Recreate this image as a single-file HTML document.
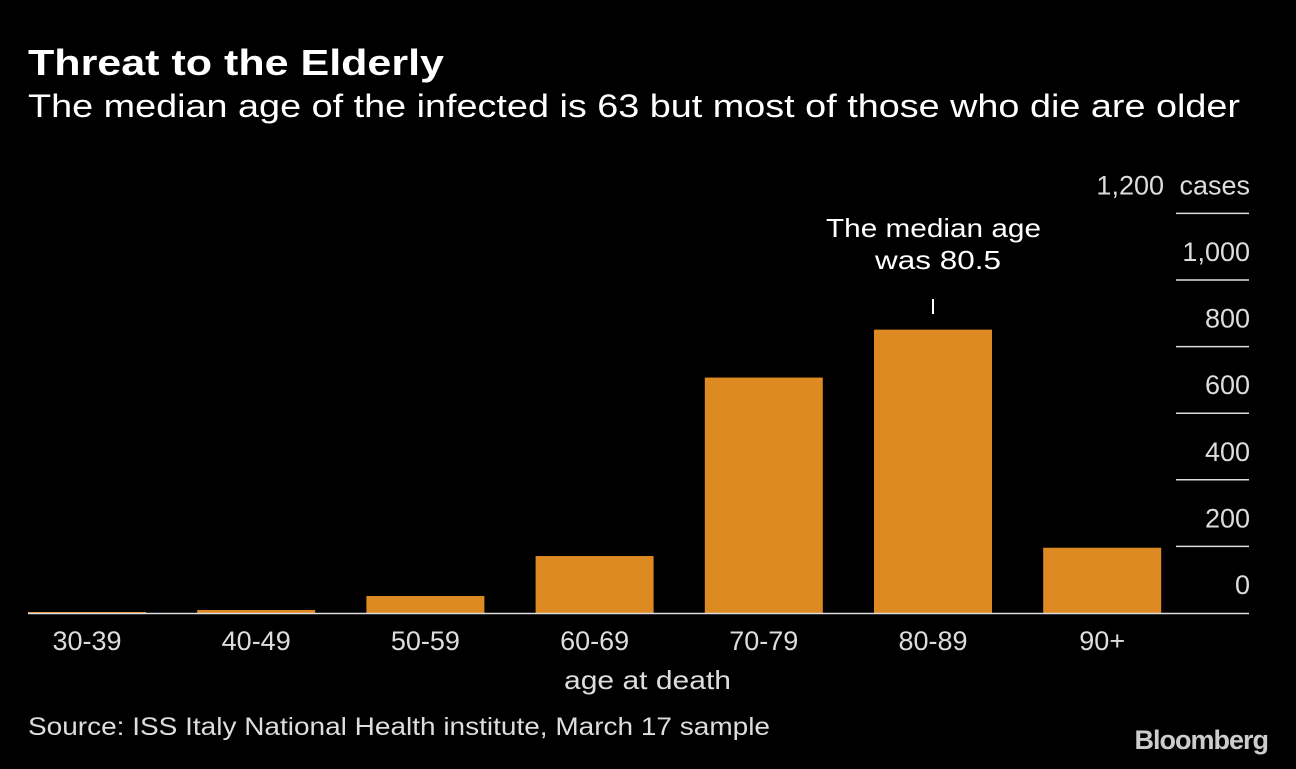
<!DOCTYPE html>
<html><head><meta charset="utf-8"><style>
body{margin:0;background:#000;width:1296px;height:764px;overflow:hidden;font-family:"Liberation Sans",sans-serif;color:#fff}
</style></head><body>
<svg width="1296" height="764" xmlns="http://www.w3.org/2000/svg">
<rect width="1296" height="764" fill="#000"/>
<text x="28" y="75" font-size="36" font-weight="bold" fill="#fff" textLength="416" lengthAdjust="spacingAndGlyphs">Threat to the Elderly</text>
<text x="28" y="117" font-size="32" fill="#fff" textLength="1212" lengthAdjust="spacingAndGlyphs">The median age of the infected is 63 but most of those who die are older</text>
<g id="grid"></g>
<g id="bars"></g>
<g id="xlabels"></g>
<line x1="933" y1="299" x2="933" y2="314" stroke="#fff" stroke-width="2"/>
<text x="826" y="237" font-size="26" fill="#fff" textLength="215" lengthAdjust="spacingAndGlyphs">The median age</text>
<text x="875" y="269" font-size="26" fill="#fff" textLength="126" lengthAdjust="spacingAndGlyphs">was 80.5</text>
<text x="564" y="689" font-size="26" fill="#ddd" textLength="167" lengthAdjust="spacingAndGlyphs">age at death</text>
<text x="28" y="735" font-size="25" fill="#ddd" textLength="742" lengthAdjust="spacingAndGlyphs">Source: ISS Italy National Health institute, March 17 sample</text>
<text x="1268" y="749" font-size="27" font-weight="bold" fill="#ccc" text-anchor="end" letter-spacing="-1">Bloomberg</text>
</svg>
<script>
const categories=["30-39","40-49","50-59","60-69","70-79","80-89","90+"];
const deaths=[3,9,51,171,707,851,196];
const yTicks=[0,200,400,600,800,1000,1200];
const yTickLabels=["0","200","400","600","800","1,000","1,200"];
const NS="http://www.w3.org/2000/svg";
const y0=613,pxPer=66.6/200;
function y(v){return y0-v*pxPer;}
function x(i){return 28+i*169.2;}
const bw=118;
function mk(t,a){const e=document.createElementNS(NS,t);for(const k in a)e.setAttribute(k,a[k]);return e;}
const grid=document.getElementById('grid');
yTicks.forEach((v,i)=>{
  if(v>0){const l=mk('line',{x1:1176,x2:1249,y1:y(v),y2:y(v),stroke:'#ddd','stroke-width':1.5});
  
  
  grid.appendChild(l);}
  const t=mk('text',{x:v===1200?1164:1250,y:y(v)-19,'font-size':27,fill:'#ddd','text-anchor':'end'});
  t.textContent=yTickLabels[i];
  
  
  grid.appendChild(t);
});
const u=mk('text',{x:1250,y:y(1200)-19,'font-size':27,fill:'#ddd','text-anchor':'end'});
u.textContent='cases';


grid.appendChild(u);
const bars=document.getElementById('bars');
deaths.forEach((v,i)=>{
  const r=mk('rect',{x:x(i),y:y(v),width:bw,height:y0-y(v),fill:'#de8a23'});
  
  
  bars.appendChild(r);
});
const base=mk('line',{x1:28,x2:1249,y1:y0+0.5,y2:y0+0.5,stroke:'#ddd','stroke-width':1.5});


bars.appendChild(base);
const xl=document.getElementById('xlabels');
categories.forEach((c,i)=>{
  const t=mk('text',{x:x(i)+bw/2,y:650,'font-size':27,fill:'#ddd','text-anchor':'middle'});
  t.textContent=c;
  
  
  xl.appendChild(t);
});
</script>
</body></html>
